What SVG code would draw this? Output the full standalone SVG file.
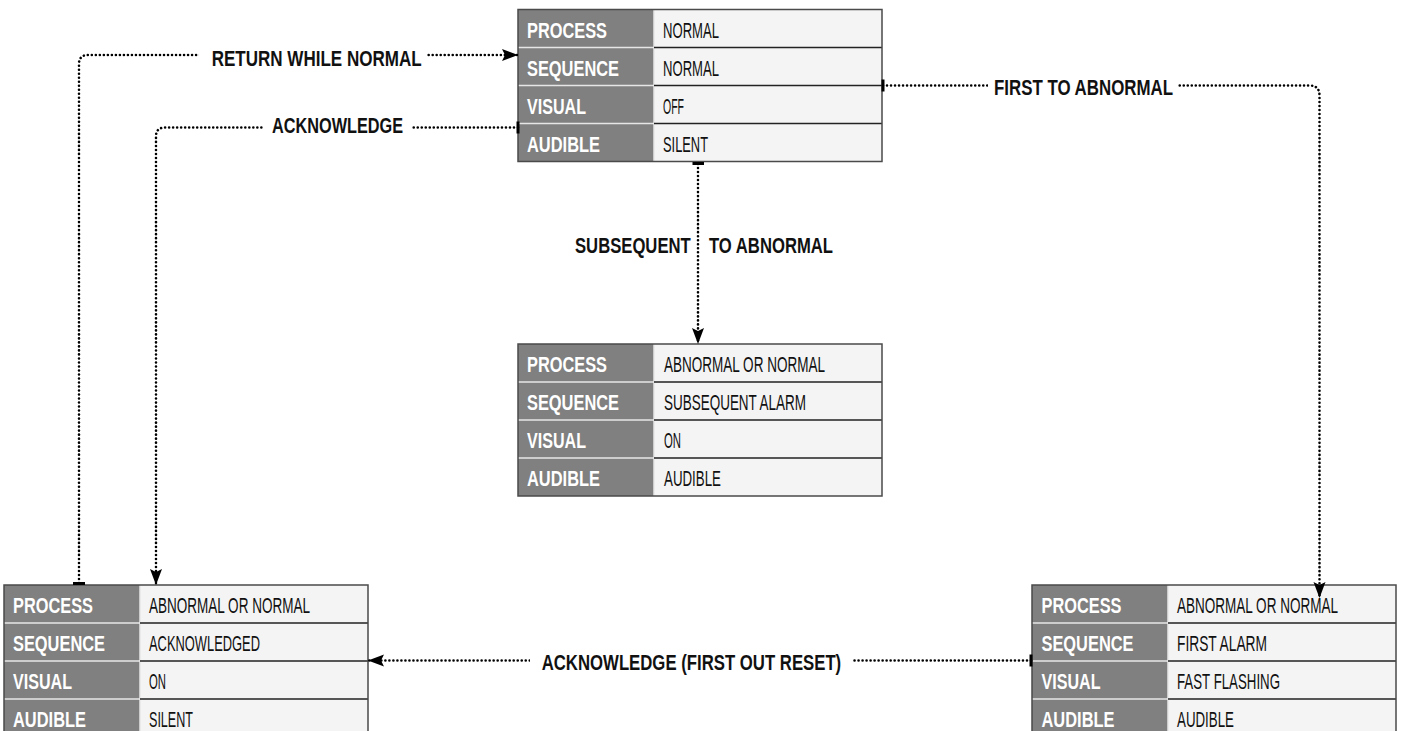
<svg xmlns="http://www.w3.org/2000/svg" xmlns:xlink="http://www.w3.org/1999/xlink" width="1403" height="731" viewBox="0 0 1403 731">
  <style>
    .lab { fill: #808080; }
    .val { fill: #f4f4f4; }
    .frame { fill: none; stroke: #4a4a4a; stroke-width: 1.5; }
    .ldiv { fill: none; stroke: #e6e6e6; stroke-width: 1.5; }
    .vdiv { fill: none; stroke: #222; stroke-width: 1.5; }
    .lt { font-family: "Liberation Sans", Arial, sans-serif; font-weight: bold; font-size: 21.5px; fill: #ffffff; }
    .vt { font-family: "Liberation Sans", Arial, sans-serif; font-size: 21.5px; fill: #111; }
    .ct { font-family: "Liberation Sans", Arial, sans-serif; font-weight: bold; font-size: 21.5px; fill: #111; }
    .conn { fill: none; stroke: #000; stroke-width: 2.6; stroke-dasharray: 0.01 4; stroke-linecap: round; }
    .tick { fill: none; stroke: #000; stroke-width: 3; }
    .bg { fill: #ffffff; }
  </style>
  <defs>
    <g id="table">
      <rect class="val" x="0" y="0" width="364" height="152"/>
      <rect class="lab" x="0" y="0" width="136" height="152"/>
      <path class="ldiv" d="M0,38H136M0,76H136M0,114H136M136,0V152"/>
      <path class="vdiv" d="M136,38H364M136,76H364M136,114H364"/>
      <rect class="frame" x="0" y="0" width="364" height="152"/>
    </g>
    <marker id="arrow" markerUnits="userSpaceOnUse" markerWidth="18" markerHeight="14" refX="16" refY="6" orient="auto">
      <path d="M0,0 L16,6 L0,12 L3,6 Z" fill="#000"/>
    </marker>
  </defs>

  <g id="state-normal" transform="translate(518,9.5)">
    <use xlink:href="#table" href="#table"/>
    <text class="lt" x="9" y="28" textLength="80" lengthAdjust="spacingAndGlyphs">PROCESS</text>
    <text class="lt" x="9" y="66" textLength="92" lengthAdjust="spacingAndGlyphs">SEQUENCE</text>
    <text class="lt" x="9" y="104" textLength="59" lengthAdjust="spacingAndGlyphs">VISUAL</text>
    <text class="lt" x="9" y="142" textLength="73" lengthAdjust="spacingAndGlyphs">AUDIBLE</text>
    <text class="vt" x="145" y="28" textLength="56" lengthAdjust="spacingAndGlyphs">NORMAL</text>
    <text class="vt" x="145" y="66" textLength="56" lengthAdjust="spacingAndGlyphs">NORMAL</text>
    <text class="vt" x="145" y="104" textLength="21" lengthAdjust="spacingAndGlyphs">OFF</text>
    <text class="vt" x="145" y="142" textLength="45" lengthAdjust="spacingAndGlyphs">SILENT</text>
  </g>

  <g id="state-subsequent-alarm" transform="translate(518,344)">
    <use xlink:href="#table" href="#table"/>
    <text class="lt" x="9" y="28" textLength="80" lengthAdjust="spacingAndGlyphs">PROCESS</text>
    <text class="lt" x="9" y="66" textLength="92" lengthAdjust="spacingAndGlyphs">SEQUENCE</text>
    <text class="lt" x="9" y="104" textLength="59" lengthAdjust="spacingAndGlyphs">VISUAL</text>
    <text class="lt" x="9" y="142" textLength="73" lengthAdjust="spacingAndGlyphs">AUDIBLE</text>
    <text class="vt" x="146" y="28" textLength="161" lengthAdjust="spacingAndGlyphs">ABNORMAL OR NORMAL</text>
    <text class="vt" x="146" y="66" textLength="142" lengthAdjust="spacingAndGlyphs">SUBSEQUENT ALARM</text>
    <text class="vt" x="146" y="104" textLength="17" lengthAdjust="spacingAndGlyphs">ON</text>
    <text class="vt" x="146" y="142" textLength="57" lengthAdjust="spacingAndGlyphs">AUDIBLE</text>
  </g>

  <g id="state-acknowledged" transform="translate(4,585)">
    <use xlink:href="#table" href="#table"/>
    <text class="lt" x="9" y="28" textLength="80" lengthAdjust="spacingAndGlyphs">PROCESS</text>
    <text class="lt" x="9" y="66" textLength="92" lengthAdjust="spacingAndGlyphs">SEQUENCE</text>
    <text class="lt" x="9" y="104" textLength="59" lengthAdjust="spacingAndGlyphs">VISUAL</text>
    <text class="lt" x="9" y="142" textLength="73" lengthAdjust="spacingAndGlyphs">AUDIBLE</text>
    <text class="vt" x="145" y="28" textLength="161" lengthAdjust="spacingAndGlyphs">ABNORMAL OR NORMAL</text>
    <text class="vt" x="145" y="66" textLength="111" lengthAdjust="spacingAndGlyphs">ACKNOWLEDGED</text>
    <text class="vt" x="145" y="104" textLength="17" lengthAdjust="spacingAndGlyphs">ON</text>
    <text class="vt" x="145" y="142" textLength="44" lengthAdjust="spacingAndGlyphs">SILENT</text>
  </g>

  <g id="state-first-alarm" transform="translate(1032,585)">
    <use xlink:href="#table" href="#table"/>
    <text class="lt" x="9.5" y="28" textLength="80" lengthAdjust="spacingAndGlyphs">PROCESS</text>
    <text class="lt" x="9.5" y="66" textLength="92" lengthAdjust="spacingAndGlyphs">SEQUENCE</text>
    <text class="lt" x="9.5" y="104" textLength="59" lengthAdjust="spacingAndGlyphs">VISUAL</text>
    <text class="lt" x="9.5" y="142" textLength="73" lengthAdjust="spacingAndGlyphs">AUDIBLE</text>
    <text class="vt" x="145" y="28" textLength="161" lengthAdjust="spacingAndGlyphs">ABNORMAL OR NORMAL</text>
    <text class="vt" x="145" y="66" textLength="90" lengthAdjust="spacingAndGlyphs">FIRST ALARM</text>
    <text class="vt" x="145" y="104" textLength="103" lengthAdjust="spacingAndGlyphs">FAST FLASHING</text>
    <text class="vt" x="145" y="142" textLength="57" lengthAdjust="spacingAndGlyphs">AUDIBLE</text>
  </g>

  <g id="connectors">
    <g id="c-return-while-normal">
      <path class="conn" d="M79,583 V64 Q79,55 88,55 H518" marker-end="url(#arrow)"/>
      <path class="tick" d="M73,583.5 H85"/>
      <rect class="bg" x="199" y="44" width="228" height="24"/>
      <text class="ct" x="211.7" y="65.5" textLength="210" lengthAdjust="spacingAndGlyphs">RETURN WHILE NORMAL</text>
    </g>
    <g id="c-acknowledge">
      <path class="conn" d="M518,127.5 H165 Q156,127.5 156,136.5 V585" marker-end="url(#arrow)"/>
      <path class="tick" d="M518,121.5 V133.5"/>
      <rect class="bg" x="263" y="115" width="149" height="24"/>
      <text class="ct" x="272" y="133.3" textLength="131" lengthAdjust="spacingAndGlyphs">ACKNOWLEDGE</text>
    </g>
    <g id="c-first-to-abnormal">
      <path class="conn" d="M883,85.5 H1309.5 Q1319.5,85.5 1319.5,95.5 V598" marker-end="url(#arrow)"/>
      <path class="tick" d="M883,79.5 V91.5"/>
      <rect class="bg" x="988" y="74" width="190" height="24"/>
      <text class="ct" x="994" y="95" textLength="179" lengthAdjust="spacingAndGlyphs">FIRST TO ABNORMAL</text>
    </g>
    <g id="c-subsequent-to-abnormal">
      <path class="conn" d="M698,164 V344" marker-end="url(#arrow)"/>
      <path class="tick" d="M692.5,163.5 H704"/>
      <text class="ct" y="252.7"><tspan x="575" textLength="115.7" lengthAdjust="spacingAndGlyphs">SUBSEQUENT</tspan><tspan x="709" textLength="124" lengthAdjust="spacingAndGlyphs">TO ABNORMAL</tspan></text>
    </g>
    <g id="c-acknowledge-first-out-reset">
      <path class="conn" d="M1031,660.5 H368" marker-end="url(#arrow)"/>
      <path class="tick" d="M1031,654.5 V666.5"/>
      <rect class="bg" x="530" y="649" width="322" height="24"/>
      <text class="ct" x="541.7" y="669.5" textLength="299.5" lengthAdjust="spacingAndGlyphs">ACKNOWLEDGE (FIRST OUT RESET)</text>
    </g>
  </g>
</svg>
